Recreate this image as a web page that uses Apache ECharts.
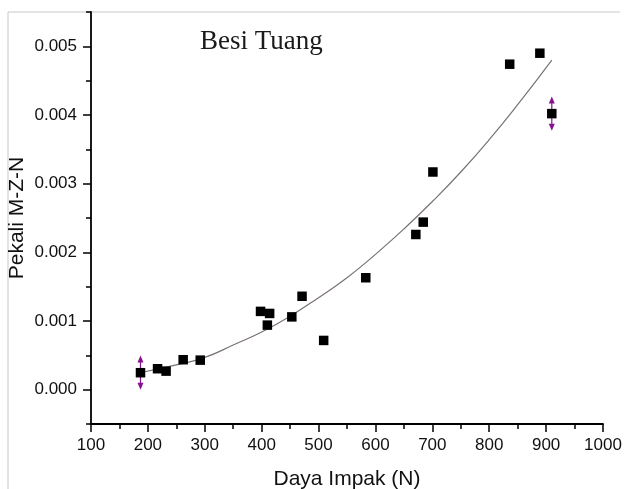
<!DOCTYPE html>
<html>
<head>
<meta charset="utf-8">
<script src="https://cdn.jsdelivr.net/npm/echarts@6/dist/echarts.min.js"></script>
<style>
  html, body { margin: 0; padding: 0; background: #fff; }
  #chart { width: 625px; height: 489px; }
</style>
</head>
<body>
<div id="chart"></div>
<script>
// Measured impact force (N) and M-Z-N coefficient for cast iron
const forceN = [187, 217, 232, 262, 292, 398, 414, 410, 453, 471, 509, 583, 671, 684, 701, 836, 889, 910];
const coeff = [0.000247, 0.000305, 0.00027, 0.000436, 0.00043, 0.00114, 0.00111, 0.00094, 0.00106, 0.00136, 0.000717, 0.00163, 0.00226, 0.00244, 0.00317, 0.00474, 0.0049, 0.00402];

// Points carrying an error range: force, coefficient, half-range
const errX = [187, 910];
const errY = [0.000247, 0.00402];
const errHalf = [0.00025, 0.00025];

// Trend curve through the data
const fitX = [188, 250, 300, 350, 400, 450, 500, 550, 600, 650, 700, 750, 800, 850, 910];
const fitY = [0.00025, 0.00036, 0.00047, 0.00065, 0.00084, 0.00107, 0.00134, 0.00163, 0.00197, 0.00234, 0.00274, 0.00317, 0.00364, 0.00415, 0.0048];

// Axis ticks
const yLabelValues = [0, 0.001, 0.002, 0.003, 0.004, 0.005];

const chart = echarts.init(document.getElementById('chart'));

const sans = 'Liberation Sans, Arial, sans-serif';
const purple = '#85128f';

chart.setOption({
  animation: false,
  backgroundColor: '#fff',
  title: {
    text: 'Besi Tuang',
    left: 195,
    top: 23,
    textStyle: { fontFamily: 'Liberation Serif, Times New Roman, serif', fontSize: 27, fontWeight: 'normal', color: '#1a1a1a' }
  },
  graphic: [{
    type: 'polyline',
    shape: { points: [[8, 489], [8, 12], [620, 12]] },
    style: { stroke: '#c8c8c8', lineWidth: 1, fill: null },
    z: -1
  }],
  grid: { left: 91, right: 22, top: 12, bottom: 65, outerBoundsMode: 'none', containLabel: false },
  xAxis: {
    type: 'value',
    min: 100,
    max: 1000,
    interval: 100,
    name: 'Daya Impak (N)',
    nameLocation: 'middle',
    nameGap: 45,
    nameMoveOverlap: false,
    nameTextStyle: { fontFamily: sans, fontSize: 21, color: '#111' },
    axisLine: { onZero: false, lineStyle: { color: '#000', width: 1.8 } },
    axisTick: { length: 8, lineStyle: { color: '#000', width: 1.5 } },
    minorTick: { show: true, splitNumber: 2, length: 5, lineStyle: { color: '#000', width: 1.5 } },
    axisLabel: { margin: 13, fontFamily: sans, fontSize: 17, color: '#111', formatter: v => String(v) },
    splitLine: { show: false }
  },
  yAxis: [{
    type: 'value',
    min: -0.0005,
    max: 0.0055,
    interval: 0.0005,
    name: 'Pekali M-Z-N',
    nameLocation: 'middle',
    nameGap: 63,
    nameMoveOverlap: false,
    nameTextStyle: { fontFamily: sans, fontSize: 21, color: '#111' },
    axisLine: { onZero: false, lineStyle: { color: '#000', width: 1.8 } },
    axisTick: { length: 5, lineStyle: { color: '#000', width: 1.5 } },
    axisLabel: {
      customValues: yLabelValues,
      margin: 14,
      fontFamily: sans,
      fontSize: 17,
      color: '#111',
      formatter: v => v.toFixed(3)
    },
    splitLine: { show: false }
  }, {
    type: 'value',
    position: 'left',
    min: -0.0005,
    max: 0.0055,
    interval: 0.0005,
    axisLine: { show: false, onZero: false },
    axisTick: { customValues: yLabelValues, length: 8, lineStyle: { color: '#000', width: 1.5 } },
    axisLabel: { show: false },
    splitLine: { show: false }
  }],
  series: [{
    type: 'line',
    data: fitX.map((x, i) => [x, fitY[i]]),
    smooth: true,
    showSymbol: false,
    lineStyle: { color: '#7a7272', width: 1.2 },
    z: 1
  }, {
    type: 'custom',
    data: errX.map((x, i) => [x, errY[i], errHalf[i]]),
    renderItem: (params, api) => {
      const x = api.value(0), y = api.value(1), e = api.value(2);
      const top = api.coord([x, y + e]);
      const bot = api.coord([x, y - e]);
      return {
        type: 'group',
        children: [{
          type: 'line',
          shape: { x1: top[0], y1: top[1] + 4, x2: bot[0], y2: bot[1] - 4 },
          style: { stroke: purple, lineWidth: 1.2 }
        }, {
          type: 'polygon',
          shape: { points: [[top[0], top[1]], [top[0] - 3, top[1] + 7], [top[0] + 3, top[1] + 7]] },
          style: { fill: purple }
        }, {
          type: 'polygon',
          shape: { points: [[bot[0], bot[1]], [bot[0] - 3, bot[1] - 7], [bot[0] + 3, bot[1] - 7]] },
          style: { fill: purple }
        }]
      };
    },
    z: 2
  }, {
    type: 'scatter',
    data: forceN.map((x, i) => [x, coeff[i]]),
    symbol: 'rect',
    symbolSize: 9.5,
    itemStyle: { color: '#000', opacity: 1 },
    z: 3
  }]
});
</script>
</body>
</html>
